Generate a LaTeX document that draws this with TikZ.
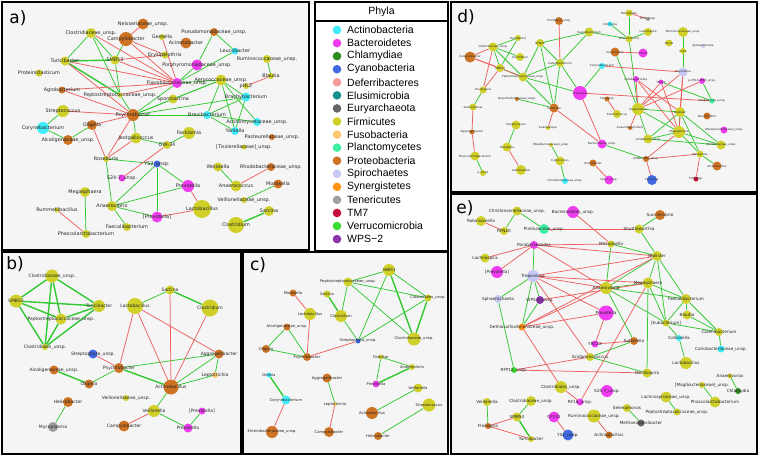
\documentclass[tikz,border=0pt]{standalone}
\usepackage{fontspec}
\setmainfont{DejaVu Sans}
\newfontfamily\legfont{Liberation Sans}
\pgfdeclarelayer{bg}\pgfdeclarelayer{edges}\pgfdeclarelayer{lab}
\pgfsetlayers{bg,edges,main,lab}
\definecolor{kAct}{RGB}{64,236,250}
\definecolor{kBac}{RGB}{240,60,240}
\definecolor{kChl}{RGB}{45,140,30}
\definecolor{kCya}{RGB}{65,105,225}
\definecolor{kDef}{RGB}{245,155,155}
\definecolor{kElu}{RGB}{20,145,145}
\definecolor{kEur}{RGB}{100,100,100}
\definecolor{kFir}{RGB}{208,208,40}
\definecolor{kFus}{RGB}{255,200,110}
\definecolor{kPla}{RGB}{60,240,160}
\definecolor{kPro}{RGB}{205,115,35}
\definecolor{kSpi}{RGB}{200,200,245}
\definecolor{kSyn}{RGB}{255,150,20}
\definecolor{kTen}{RGB}{160,160,160}
\definecolor{kTM}{RGB}{200,15,60}
\definecolor{kVer}{RGB}{60,220,50}
\definecolor{kWPS}{RGB}{140,50,170}
\definecolor{eg}{RGB}{50,200,50}
\definecolor{er}{RGB}{238,95,95}
\definecolor{panelbg}{RGB}{245,245,245}
\def\lf{\fontsize{4.9}{5}\selectfont}
\newcommand\nd[6]{\node[dot,fill=#5,minimum size={2*#4pt}] (#1) at (#2,#3) {};
  \begin{pgfonlayer}{lab}\node[lbl] at (#2,#3) {#6};\end{pgfonlayer}}
\newcommand\eds[2]{\begin{pgfonlayer}{edges}\foreach \pa/\pb in {#2} \draw[#1] (\pa)--(\pb);\end{pgfonlayer}}
\tikzset{
 dot/.style={circle,inner sep=0pt,draw=none},
 lbl/.style={inner sep=0pt,font=\lf,text=black!85},
 G/.style={draw=eg,line width=0.75pt},
 GG/.style={draw=eg,line width=1.4pt},
 R/.style={draw=er,line width=0.75pt},
 panel/.style={fill=panelbg,draw=black,line width=1.8pt},
 plabel/.style={font=\fontsize{17}{17}\selectfont,inner sep=0pt},
 legtxt/.style={font=\legfont\fontsize{10.5}{11}\selectfont,anchor=west,inner sep=0pt},
}
\begin{document}
\begin{tikzpicture}[x=1pt,y=-1pt]
\useasboundingbox (0,0) rectangle (760,456);
\begin{pgfonlayer}{bg}
\fill[white] (0,0) rectangle (760,456);
\path[panel] (2,2) rectangle (309,250);
\path[panel] (2,252) rectangle (241,454);
\path[panel] (243,252) rectangle (448,454);
\path[panel] (451,2) rectangle (757,192);
\path[panel] (451,194) rectangle (757,454);
\path[fill=white,draw=black,line width=1.8pt] (315,2) rectangle (448,251);
\draw[line width=1.8pt] (315,21) -- (448,21);
\end{pgfonlayer}
% legend
\node[legtxt,anchor=center] (phyla) at (381.5,12) {Phyla};
\foreach \nm/\cl [count=\i from 0] in {Actinobacteria/kAct,Bacteroidetes/kBac,Chlamydiae/kChl,Cyanobacteria/kCya,Deferribacteres/kDef,Elusimicrobia/kElu,Euryarchaeota/kEur,Firmicutes/kFir,Fusobacteria/kFus,Planctomycetes/kPla,Proteobacteria/kPro,Spirochaetes/kSpi,Synergistetes/kSyn,Tenericutes/kTen,TM7/kTM,Verrucomicrobia/kVer,WPS−2/kWPS}{
  \node[dot,fill=\cl,minimum size=8.6pt] (lg\i) at (337,{30+13.07*\i}) {};
  \node[legtxt] (lt\i) at (347,{30+13.07*\i}) {\nm};}
% panel labels
\node[plabel] (la) at (18,18) {a)};
\node[plabel] (lb) at (15,264) {b)};
\node[plabel] (lc) at (258,265) {c)};
\node[plabel] (ld) at (466,17) {d)};
\node[plabel] (le) at (465,208) {e)};
% ---------------- panel a
\def\lf{\fontsize{4.9}{5}\selectfont}
\nd{aNei}{143}{24}{5.5}{kPro}{Neisseriaceae\_unsp.}
\nd{aClo}{91}{33}{5}{kFir}{Clostridiaceae\_unsp.}
\nd{aCam}{126}{39}{7}{kPro}{Campylobacter}
\nd{aGem}{162}{37}{3}{kFir}{Gemella}
\nd{aAci}{186}{43}{5.5}{kPro}{Acinetobacter}
\nd{aPse}{214}{32}{4}{kPro}{Pseudomonadaceae\_unsp.}
\nd{aEry}{165}{55}{3.5}{kFir}{Erysipelothrix}
\nd{aLeu}{235}{51}{3.5}{kAct}{Leucobacter}
\nd{aRum}{267}{59}{4}{kFir}{Ruminococcaceae\_unsp.}
\nd{aTur}{65}{61}{4.5}{kFir}{Turicibacter}
\nd{aSMB}{115}{60}{4.5}{kFir}{SMB53}
\nd{aPor}{197}{65}{5.5}{kBac}{Porphyromonadaceae\_unsp.}
\nd{aPro}{39}{73}{3.5}{kFir}{Proteiniclasticum}
\nd{aBla}{271}{76}{3}{kFir}{Blautia}
\nd{aAer}{221}{80}{5.5}{kFir}{Aerococcaceae\_unsp.}
\nd{aFla}{177}{83}{5}{kBac}{Flavobacteriaceae\_unsp.}
\nd{aPHL}{246}{86}{3}{kFir}{pHL2}
\nd{aAgr}{62}{90}{3.5}{kPro}{Agrobacterium}
\nd{aPep}{120}{95}{2.5}{kFir}{Peptostreptococcaceae\_unsp.}
\nd{aBrac}{246}{97}{4.5}{kAct}{Brachybacterium}
\nd{aSpo}{173}{99}{4.5}{kFir}{Sporosarcina}
\nd{aStr}{63}{111}{6}{kFir}{Streptococcus}
\nd{aPsy}{133}{115}{6}{kPro}{Psychrobacter}
\nd{aBrev}{207}{115}{4}{kAct}{Brevibacterium}
\nd{aAct}{257}{122}{4}{kAct}{Actinomycetaceae\_unsp.}
\nd{aOli}{92}{125}{5}{kPro}{Oligella}
\nd{aCor}{43}{128}{6}{kAct}{Corynebacterium}
\nd{aYan}{235}{131}{4}{kAct}{Yaniella}
\nd{aFac}{189}{133}{6}{kFir}{Facklamia}
\nd{aPas}{272}{137}{3}{kPro}{Pasteurellaceae\_unsp.}
\nd{aJeo}{136}{138}{5.5}{kFir}{Jeotgalicoccus}
\nd{aAlc}{68}{140}{5}{kPro}{Alcaligenaceae\_unsp.}
\nd{aOW}{167}{145}{4}{kFir}{OW-34}
\nd{aTis}{244}{147}{2.5}{kFir}{[Tissierellaceae]\_unsp.}
\nd{aRos}{106}{159}{3}{kFir}{Roseburia}
\nd{aYS}{157}{164}{3.5}{kCya}{YS2\_unsp.}
\nd{aWei}{218}{167}{4.5}{kFir}{Weissella}
\nd{aRho}{271}{167}{4}{kPro}{Rhodobacteraceae\_unsp.}
\nd{aS24}{122}{178}{3.5}{kBac}{S24-7\_unsp.}
\nd{aMor}{278}{184}{4.5}{kPro}{Moraxella}
\nd{aPrev}{188}{186}{6}{kBac}{Prevotella}
\nd{aAnc}{236}{186}{5.5}{kFir}{Anaerococcus}
\nd{aMeg}{85}{192}{5}{kFir}{Megasphaera}
\nd{aVec}{244}{200}{3}{kFir}{Veillonellaceae\_unsp.}
\nd{aAnv}{112}{206}{5}{kFir}{Anaerovibrio}
\nd{aLac}{202}{209}{9}{kFir}{Lactobacillus}
\nd{aRuml}{57}{210}{2.5}{kFir}{Rummeliibacillus}
\nd{aSar}{269}{211}{5}{kFir}{Sarcina}
\nd{aPPr}{157}{217}{5.5}{kBac}{[Prevotella]}
\nd{aFae}{127}{227}{4}{kFir}{Faecalibacterium}
\nd{aClm}{236}{225}{8}{kFir}{Clostridium}
\nd{aPha}{86}{234}{4}{kFir}{Phascolarctobacterium}
\eds{G}{aClo/aTur,aClo/aSMB,aClo/aPep,aSMB/aPep,aCam/aSMB,aPse/aPor,aPse/aLeu,aPor/aFla,aLeu/aFla,aRum/aBla,aAer/aFla,aAer/aBrac,aAer/aBrev,aAer/aYan,aAer/aAct,aAer/aPsy,aAer/aSpo,aBrac/aBrev,aBrac/aYan,aBrac/aPsy,aPsy/aFla,aPsy/aSpo,aPsy/aBrev,aPsy/aJeo,aPsy/aPep,aBrev/aYan,aBrev/aAct,aCor/aStr,aCor/aAlc,aAlc/aOli,aFac/aOW,aOW/aJeo,aRos/aYS,aRos/aAnv,aYS/aPrev,aYS/aAnv,aYS/aPPr,aPrev/aAnv,aAnv/aFae,aAnv/aPPr,aMeg/aPha,aWei/aAnc,aMor/aVec}
\eds{GG}{aTur/aSMB,aTur/aPep,aSar/aClm}
\eds{R}{aCam/aNei,aCam/aFla,aCam/aEry,aGem/aFla,aTur/aFla,aTur/aPsy,aSMB/aFla,aSMB/aEry,aClo/aFla,aPep/aFla,aAgr/aPsy,aAgr/aFla,aStr/aPsy,aPsy/aOli,aOli/aRos,aJeo/aRos,aPsy/aRos,aS24/aOW,aPrev/aLac,aPPr/aLac,aAnc/aRho,aRuml/aPha,aBla/aPHL}
% ---------------- panel b
\def\lf{\fontsize{4.5}{5}\selectfont}
\nd{bClo}{52}{276}{6.5}{kFir}{Clostridiaceae\_unsp.}
\nd{bSMB}{16}{301}{6.5}{kFir}{SMB53}
\nd{bTur}{99}{306}{6}{kFir}{Turicibacter}
\nd{bPep}{61}{319}{5.5}{kFir}{Peptostreptococcaceae\_unsp.}
\nd{bCls}{45}{347}{3}{kFir}{Clostridiales\_unsp.}
\nd{bLac}{135}{306}{8}{kFir}{Lactobacillus}
\nd{bSar}{170}{290}{4.5}{kFir}{Sarcina}
\nd{bClm}{210}{308}{8.5}{kFir}{Clostridium}
\nd{bStp}{93}{354}{4.5}{kCya}{Streptophyta\_unsp.}
\nd{bPsy}{119}{368}{5}{kPro}{Psychrobacter}
\nd{bAlc}{54}{370}{4.5}{kPro}{Alcaligenaceae\_unsp.}
\nd{bOli}{89}{384}{4.5}{kPro}{Oligella}
\nd{bAcb}{171}{387}{7.5}{kPro}{Actinobacillus}
\nd{bAgg}{219}{354}{4.5}{kPro}{Aggregatibacter}
\nd{bLep}{215}{375}{3}{kFus}{Leptotrichia}
\nd{bVec}{126}{398}{3}{kFir}{Veillonellaceae\_unsp.}
\nd{bVei}{154}{411}{6}{kFir}{Veillonella}
\nd{bHel}{68}{402}{5}{kPro}{Helicobacter}
\nd{bMyc}{53}{427}{5}{kTen}{Mycoplasma}
\nd{bCam}{124}{426}{5.5}{kPro}{Campylobacter}
\nd{bPPr}{202}{411}{3.5}{kBac}{[Prevotella]}
\nd{bPrv}{188}{428}{4.5}{kBac}{Prevotella}
\eds{GG}{bClo/bSMB,bClo/bTur,bClo/bPep,bClo/bCls,bSMB/bTur,bSMB/bPep,bSMB/bCls,bTur/bPep,bTur/bCls,bPep/bCls,bSar/bClm,bAlc/bOli,bPsy/bAcb}
\eds{G}{bSar/bLac,bPsy/bAgg,bPsy/bOli,bAcb/bAgg,bAcb/bLep,bAcb/bVei,bAgg/bLep,bVei/bPrv,bHel/bMyc,bPPr/bPrv}
\eds{R}{bLac/bPsy,bLac/bAcb,bLac/bAgg,bSar/bAcb,bClm/bAcb,bStp/bPsy,bVei/bCam}
% ---------------- panel c
\def\lf{\fontsize{3.75}{4}\selectfont}
\nd{cSMB}{389}{270}{6}{kFir}{SMB53}
\nd{cPep}{348}{282}{4.5}{kFir}{Peptostreptococcaceae\_unsp.}
\nd{cSar}{327}{294}{3.5}{kFir}{Sarcina}
\nd{cCls}{428}{298}{3.5}{kFir}{Clostridiales\_unsp.}
\nd{cClm}{341}{316}{6}{kFir}{Clostridium}
\nd{cClo}{414}{339}{6.5}{kFir}{Clostridiaceae\_unsp.}
\nd{cStp}{358}{341}{2.5}{kCya}{Streptophyta\_unsp.}
\nd{cMor}{293}{293}{3.5}{kPro}{Moraxella}
\nd{cLac}{310}{314}{6}{kFir}{Lactobacillus}
\nd{cAlc}{287}{327}{3.5}{kPro}{Alcaligenaceae\_unsp.}
\nd{cOli}{266}{349}{4}{kPro}{Oligella}
\nd{cPsy}{307}{357}{4}{kPro}{Psychrobacter}
\nd{cDie}{269}{375}{2.5}{kAct}{Dietzia}
\nd{cCor}{286}{400}{4.5}{kAct}{Corynebacterium}
\nd{cEnt}{272}{432}{6}{kPro}{Enterobacteriaceae\_unsp.}
\nd{cAgg}{327}{378}{4.5}{kPro}{Aggregatibacter}
\nd{cLep}{335}{404}{2}{kFus}{Leptotrichia}
\nd{cCam}{329}{432}{5}{kPro}{Campylobacter}
\nd{cDia}{381}{357}{2.5}{kFir}{Dialister}
\nd{cAnv}{412}{367}{3}{kFir}{Anaerovibrio}
\nd{cPrv}{376}{384}{3.5}{kBac}{Prevotella}
\nd{cVei}{418}{388}{4.5}{kFir}{Veillonella}
\nd{cAcb}{372}{413}{6}{kPro}{Actinobacillus}
\nd{cStr}{429}{405}{6.5}{kFir}{Streptococcus}
\nd{cHel}{378}{436}{4}{kPro}{Helicobacter}
\eds{G}{cSMB/cPep,cSMB/cCls,cSMB/cStp,cPep/cCls,cPep/cClo,cPep/cClm,cCls/cStp,cClm/cStp,cAlc/cOli,cAlc/cPsy,cOli/cPsy,cAgg/cLep,cDia/cAnv,cDia/cPrv,cVei/cAcb,cStr/cHel}
\eds{GG}{cSMB/cClo,cCls/cClo,cSar/cClm,cDie/cCor,cPrv/cAnv}
\eds{R}{cStp/cPsy,cLac/cPsy,cMor/cLac,cCor/cEnt,cLep/cCam}
% ---------------- panel d
\def\lf{\fontsize{2.8}{3}\selectfont}
\nd{dTre}{559}{21}{4}{kPro}{Tremblaya\_unsp.}
\nd{dCol}{610}{24}{2.5}{kAct}{Collinsella}
\nd{dMit}{629}{13}{3.5}{kFir}{Mitsuokella}
\nd{dRFt}{648}{19}{2}{kTen}{RF39\_unsp.}
\nd{dFae}{589}{32}{4.5}{kFir}{Faecalibacterium}
\nd{dTur}{518}{38}{3}{kFir}{Turicibacter}
\nd{dRFN}{540}{43}{4}{kFir}{RFN20}
\nd{dClo}{493}{47}{4.5}{kFir}{Clostridiaceae\_unsp.}
\nd{dClm}{520}{57}{4}{kFir}{Clostridium}
\nd{dCam}{470}{57}{5.5}{kPro}{Campylobacter}
\nd{dSMB}{500}{68}{4}{kFir}{SMB53}
\nd{dCat}{560}{63}{4}{kFir}{Catenibacterium}
\nd{dCor}{602}{66}{3}{kAct}{Corynebacterium}
\nd{dPep}{523}{77}{4.5}{kFir}{Peptostreptococcaceae\_unsp.}
\nd{dOsc}{483}{90}{3.5}{kFir}{Oscillospira}
\nd{dPrv}{580}{93}{7}{kBac}{Prevotella}
\nd{dDes}{517}{99}{2}{kPro}{Desulfovibrionaceae\_unsp.}
\nd{dSel}{473}{107}{3.5}{kFir}{Selenomonas}
\nd{dSut}{554}{108}{4.5}{kPro}{Sutterella}
\nd{dAgg}{472}{132}{2.5}{kPro}{Aggregatibacter}
\nd{dStr}{516}{125}{4.5}{kFir}{Streptococcus}
\nd{dAns}{548}{128}{2}{kFir}{Anaerostipes}
\nd{dRos}{507}{147}{4.5}{kFir}{Roseburia}
\nd{dMog}{551}{145}{2}{kFir}{[Mogibacteriaceae]\_unsp.}
\nd{dBac}{602}{144}{4.5}{kBac}{Bacteroidales\_unsp.}
\nd{dPha}{475}{156}{4.5}{kFir}{Phascolarctobacterium}
\nd{dLac}{521}{170}{5}{kFir}{Lactobacillus}
\nd{dCop}{560}{161}{4.5}{kFir}{Coprococcus}
\nd{dHel}{593}{163}{3.5}{kPro}{Helicobacter}
\nd{dPsf}{483}{173}{3}{kFir}{p-75-a5}
\nd{dCri}{565}{181}{3}{kAct}{Coriobacteriaceae\_unsp.}
\nd{dS24}{609}{180}{4.5}{kBac}{S24-7\_unsp.}
\nd{dLach}{648}{32}{4}{kFir}{Lachnospira}
\nd{dRumf}{683}{32}{5}{kFir}{Ruminococcaceae\_unsp.}
\nd{dEub}{629}{39}{3.5}{kFir}{[Eubacterium]}
\nd{dDor}{669}{43}{3.5}{kFir}{Dorea}
\nd{dSph}{703}{46}{2}{kSpi}{Sphaerochaeta}
\nd{dRc}{683}{51}{3}{kFir}{rc4-4}
\nd{dSuc}{615}{52}{4.5}{kPro}{Succinivibrio}
\nd{dCF}{643}{53}{4.5}{kBac}{CF231}
\nd{dTrp}{683}{72}{4.5}{kSpi}{Treponema}
\nd{dPar}{636}{79}{3}{kBac}{Parabacteroides}
\nd{dYRC}{661}{82}{2.5}{kBac}{YRC22}
\nd{dPtf}{702}{81}{3}{kBac}{p-2534-18B5\_unsp.}
\nd{dFle}{607}{99}{2.5}{kPro}{Flexispira}
\nd{dRmc}{617}{114}{4}{kFir}{Ruminococcus}
\nd{dAnv}{638}{109}{6}{kFir}{Anaerovibrio}
\nd{dDia}{680}{112}{5}{kFir}{Dialister}
\nd{dPir}{712}{101}{2.5}{kPla}{Pirellulaceae\_unsp.}
\nd{dDsv}{707}{116}{3.5}{kPro}{Desulfovibrio}
\nd{dAbs}{630}{128}{2}{kPro}{Anaerobiospirillum}
\nd{dPpv}{724}{130}{3.5}{kBac}{[Paraprevotellaceae]\_unsp.}
\nd{dMeg}{679}{132}{6}{kFir}{Megasphaera}
\nd{dAcm}{648}{139}{4.5}{kFir}{Acidaminococcus}
\nd{dVec}{721}{145}{4.5}{kFir}{Veillonellaceae\_unsp.}
\nd{dSch}{700}{154}{3.5}{kFir}{Schwartzia}
\nd{dGMD}{646}{159}{3}{kPro}{GMD14H09\_unsp.}
\nd{dAcb}{717}{166}{4.5}{kPro}{Actinobacillus}
\nd{dYS}{652}{180}{5}{kCya}{YS2\_unsp.}
\nd{dFst}{696}{179}{2.5}{kTM}{F16\_unsp.}
\eds{G}{dTur/dClo,dTur/dSMB,dClo/dClm,dClo/dSMB,dClo/dPep,dSMB/dPep,dRFN/dPep,dRFN/dCat,dRFN/dFae,dRFN/dSut,dFae/dCat,dCat/dPep,dCat/dSut,dCat/dPrv,dPep/dPrv,dPep/dSut,dOsc/dSel,dDes/dSut,dStr/dRos,dMog/dCop,dCop/dCri,dPha/dPsf,dCor/dPrv,dFae/dEub,dMit/dEub,dCol/dEub,dLach/dEub,dEub/dAnv,dSuc/dAnv,dRumf/dRc,dRc/dTrp,dYRC/dPir,dPtf/dPir,dAnv/dDia,dAnv/dMeg,dAnv/dAcm,dDia/dMeg,dDia/dAcm,dDia/dVec,dDia/dSch,dMeg/dAcm,dMeg/dVec,dMeg/dSch,dSch/dAcb,dAcm/dVec,dBac/dGMD}
\eds{R}{dCam/dClo,dCam/dSMB,dCam/dPep,dClo/dOsc,dSMB/dOsc,dSel/dAgg,dAgg/dPha,dRos/dLac,dTre/dCat,dSut/dAns,dSut/dBac,dPrv/dBac,dHel/dS24,dPrv/dPir,dCor/dTrp,dMit/dRFt,dSuc/dCF,dTrp/dAnv,dTrp/dMeg,dTrp/dDia,dPar/dAnv,dPar/dDia,dPar/dMeg,dYRC/dAnv,dYRC/dMeg,dPtf/dAnv,dFle/dRmc,dAbs/dAnv,dMeg/dGMD,dGMD/dYS,dGMD/dSch,dSch/dFst}
% ---------------- panel e
\def\lf{\fontsize{4.2}{4.5}\selectfont}
\nd{eChr}{517}{211}{4.5}{kFir}{Christensenellaceae\_unsp.}
\nd{eBac}{573}{212}{6}{kBac}{Bacteroidales\_unsp.}
\nd{eRob}{481}{221}{5}{kFir}{Robinsoniella}
\nd{eRFN}{504}{231}{4}{kFir}{RFN20}
\nd{ePir}{544}{229}{5}{kPla}{Pirellulaceae\_unsp.}
\nd{eSuc}{660}{215}{5}{kPro}{Succinivibrio}
\nd{eShu}{639}{229}{4.5}{kFir}{Shuttleworthia}
\nd{ePar}{534}{245}{4}{kBac}{Parabacteroides}
\nd{eMit}{611}{244}{3.5}{kFir}{Mitsuokella}
\nd{eLach}{485}{258}{4.5}{kFir}{Lachnospira}
\nd{ePPr}{497}{272}{6}{kBac}{[Prevotella]}
\nd{eTrp}{533}{276}{6}{kSpi}{Treponema}
\nd{eSph}{498}{299}{4}{kSpi}{Sphaerochaeta}
\nd{eWPS}{540}{300}{4}{kWPS}{WPS-2\_unsp.}
\nd{eDet}{522}{327}{3.5}{kSyn}{Dethiosulfovibrionaceae\_unsp.}
\nd{eYRC}{595}{344}{3.5}{kBac}{YRC22}
\nd{eAcm}{590}{357}{4}{kFir}{Acidaminococcus}
\nd{eRFP}{514}{370}{3}{kVer}{RFP12\_unsp.}
\nd{eCls}{561}{387}{6}{kFir}{Clostridiales\_unsp.}
\nd{eRFs}{580}{402}{3.5}{kBac}{RF16\_unsp.}
\nd{eVei}{487}{402}{4}{kFir}{Veillonella}
\nd{eClo}{531}{401}{5}{kFir}{Clostridiaceae\_unsp.}
\nd{eSMB}{517}{417}{4.5}{kFir}{SMB53}
\nd{eFle}{488}{426}{3}{kPro}{Flexispira}
\nd{eCF}{554}{417}{5.5}{kBac}{CF231}
\nd{eYS}{568}{435}{5.5}{kCya}{YS2\_unsp.}
\nd{eTur}{531}{439}{3}{kFir}{Turicibacter}
\nd{eS24}{607}{391}{6}{kBac}{S24-7\_unsp.}
\nd{eRum}{594}{416}{6.5}{kFir}{Ruminococcaceae\_unsp.}
\nd{eSel}{627}{408}{4}{kFir}{Selenomonas}
\nd{eMet}{641}{423}{3.5}{kEur}{Methanobrevibacter}
\nd{eAcb}{609}{435}{3.5}{kPro}{Actinobacillus}
\nd{ePrv}{606}{313}{7.5}{kBac}{Prevotella}
\nd{eAnv}{606}{288}{6}{kFir}{Anaerovibrio}
\nd{eMeg}{648}{283}{5.5}{kFir}{Megasphaera}
\nd{eDia}{657}{256}{5}{kFir}{Dialister}
\nd{eSut}{634}{341}{4}{kPro}{Sutterella}
\nd{eOsc}{647}{373}{4.5}{kFir}{Oscillospira}
\nd{eFae}{686}{299}{5}{kFir}{Faecalibacterium}
\nd{eBla}{687}{315}{4.5}{kFir}{Blautia}
\nd{eEub}{666}{323}{3.5}{kFir}{[Eubacterium]}
\nd{eCat}{719}{332}{4}{kFir}{Catenibacterium}
\nd{eCol}{679}{338}{3}{kAct}{Collinsella}
\nd{eCor}{721}{349}{3.5}{kAct}{Coriobacteriaceae\_unsp.}
\nd{eLac}{686}{363}{6}{kFir}{Lactobacillus}
\nd{eAnx}{730}{376}{2.5}{kFir}{Anaerovorax}
\nd{eChl}{738}{391}{3}{kChl}{Chlamydia}
\nd{eMog}{702}{385}{3}{kFir}{[Mogibacteriaceae]\_unsp.}
\nd{ePha}{715}{402}{5.5}{kFir}{Phascolarctobacterium}
\nd{eLcs}{666}{397}{5.5}{kFir}{Lachnospiraceae\_unsp.}
\nd{ePep}{677}{412}{3.5}{kFir}{Peptostreptococcaceae\_unsp.}
\eds{G}{eChr/eRFN,eChr/ePir,ePar/eTrp,eTrp/eSph,eTrp/eWPS,eTrp/eDet,eWPS/eDet,eSph/eRFP,eSuc/eShu,eShu/eDia,eVei/eFle,eSMB/eClo,eSel/eMet,eLcs/ePep,eMog/ePha,eAnx/eChl,eCat/eCor,eCol/eLac,eFae/eBla,eFae/eCat,eBla/eCat,eEub/eCat,eEub/eCol,eEub/eFae,eEub/eDia,eEub/eMeg,eEub/eAnv,eMeg/eOsc,eMit/eAnv,eMit/eDia,eAnv/eDia,eAnv/eMeg,eAnv/eFae,eDia/eMeg,eAnv/eSut,eAcm/eSut,eAcm/eOsc,eDia/eFae,eMeg/eFae}
\eds{GG}{eSMB/eTur}
\eds{R}{ePar/eLach,ePar/ePPr,ePar/eMit,ePar/eDia,ePar/eAnv,eTrp/eAnv,eTrp/eDia,eTrp/eMeg,eTrp/ePrv,eTrp/eAcm,eDet/eAnv,eDet/eDia,eDet/ePrv,eDet/eCls,eWPS/eMeg,eRFP/eAcm,eRFP/eOsc,eRFs/eCls,eRFs/eMeg,ePrv/eYRC,eYRC/eSut,eRob/eRFN,ePir/eShu,eBac/eMit,eSMB/eFle,eFle/eTur,eCF/eYS,eRum/eAcb}
\end{tikzpicture}
\end{document}
